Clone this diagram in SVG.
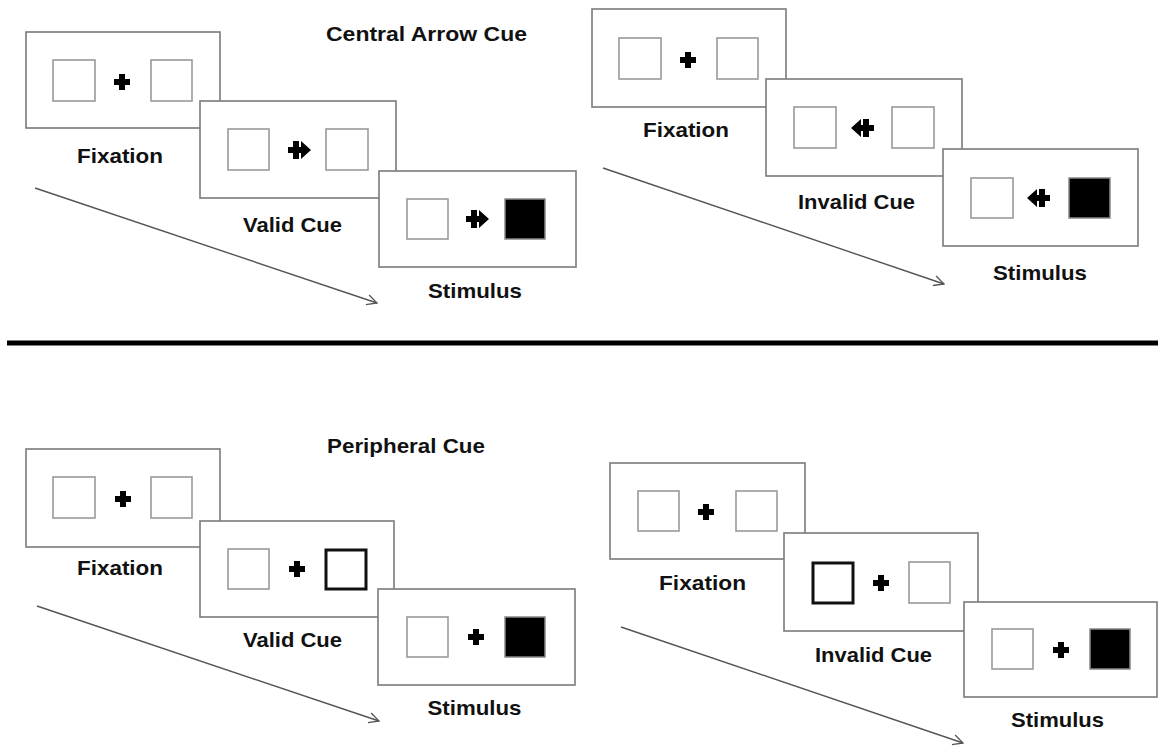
<svg xmlns="http://www.w3.org/2000/svg" width="1158" height="747" viewBox="0 0 1158 747">
<style>
.frame{fill:#fff;stroke:#7a7a7a;stroke-width:1.6}
.sq{fill:#fff;stroke:#9a9a9a;stroke-width:1.6}
.thick{fill:#fff;stroke:#111;stroke-width:3}
.blk{fill:#000;stroke:#888;stroke-width:1.5}
.lbl{font-family:"Liberation Sans",Arial,sans-serif;font-weight:bold;font-size:21px;fill:#111;text-anchor:middle}
.conn{stroke:#555;stroke-width:1.4;fill:none}
</style>
<defs>
<path id="plus" d="M-3,-8 h6 v5 h5 v6 h-5 v5 h-6 v-5 h-5 v-6 h5 z" fill="#000"/>
<path id="arrR" d="M-12,-3 h5 v-6 h6 v6 h2 v-6 l10,9 l-10,9 v-6 h-2 v6 h-6 v-6 h-5 z" fill="#000"/>
<marker id="ah" viewBox="0 0 12 12" refX="11" refY="6" markerWidth="12" markerHeight="12" markerUnits="userSpaceOnUse" orient="auto">
<polyline points="1,1 11,6 1,11" fill="none" stroke="#555" stroke-width="1.3"/>
</marker>
</defs>
<rect width="1158" height="747" fill="#fff"/>

<g id="title-central"><text class="lbl" x="426.5" y="41" textLength="201" lengthAdjust="spacingAndGlyphs">Central Arrow Cue</text></g>
<g id="title-peripheral"><text class="lbl" x="406" y="453" textLength="158" lengthAdjust="spacingAndGlyphs">Peripheral Cue</text></g>

<g id="connectors">
<line class="conn" x1="35" y1="188" x2="377" y2="303" marker-end="url(#ah)"/>
<line class="conn" x1="603" y1="168" x2="944" y2="284" marker-end="url(#ah)"/>
<line class="conn" x1="37" y1="606" x2="379" y2="721" marker-end="url(#ah)"/>
<line class="conn" x1="621" y1="627" x2="963" y2="743" marker-end="url(#ah)"/>
</g>

<g id="divider"><line x1="7" y1="343" x2="1158" y2="343" stroke="#000" stroke-width="5"/></g>

<!-- Top-left: central arrow valid -->
<g id="ca-valid-fixation">
<rect class="frame" x="26" y="32" width="194" height="96"/>
<rect class="sq" x="53" y="60" width="42" height="41"/>
<rect class="sq" x="151" y="60" width="41" height="41"/>
<use href="#plus" x="122" y="82"/>
<text class="lbl" x="120" y="163" textLength="86" lengthAdjust="spacingAndGlyphs">Fixation</text>
</g>
<g id="ca-valid-cue">
<rect class="frame" x="200" y="101" width="196" height="97"/>
<rect class="sq" x="228" y="129" width="41" height="41"/>
<rect class="sq" x="326" y="129" width="42" height="41"/>
<use href="#arrR" x="300" y="150"/>
<text class="lbl" x="292.5" y="232" textLength="99" lengthAdjust="spacingAndGlyphs">Valid Cue</text>
</g>
<g id="ca-valid-stimulus">
<rect class="frame" x="379" y="171" width="197" height="96"/>
<rect class="sq" x="407" y="199" width="41" height="40"/>
<rect class="blk" x="505" y="199" width="40" height="40"/>
<use href="#arrR" x="478" y="219"/>
<text class="lbl" x="475" y="298" textLength="94" lengthAdjust="spacingAndGlyphs">Stimulus</text>
</g>

<!-- Top-right: central arrow invalid -->
<g id="ca-invalid-fixation">
<rect class="frame" x="592" y="9" width="194" height="98"/>
<rect class="sq" x="619" y="38" width="42" height="41"/>
<rect class="sq" x="717" y="38" width="41" height="41"/>
<use href="#plus" x="688" y="60"/>
<text class="lbl" x="686" y="137" textLength="86" lengthAdjust="spacingAndGlyphs">Fixation</text>
</g>
<g id="ca-invalid-cue">
<rect class="frame" x="766" y="79" width="196" height="97"/>
<rect class="sq" x="794" y="107" width="42" height="41"/>
<rect class="sq" x="892" y="107" width="42" height="41"/>
<use href="#arrR" transform="translate(862,128) scale(-1,1)"/>
<text class="lbl" x="856.5" y="209" textLength="117" lengthAdjust="spacingAndGlyphs">Invalid Cue</text>
</g>
<g id="ca-invalid-stimulus">
<rect class="frame" x="943" y="149" width="195" height="97"/>
<rect class="sq" x="971" y="178" width="42" height="40"/>
<rect class="blk" x="1069" y="178" width="41" height="40"/>
<use href="#arrR" transform="translate(1038,198) scale(-1,1)"/>
<text class="lbl" x="1040" y="280" textLength="94" lengthAdjust="spacingAndGlyphs">Stimulus</text>
</g>

<!-- Bottom-left: peripheral valid -->
<g id="pc-valid-fixation">
<rect class="frame" x="26" y="449" width="194" height="98"/>
<rect class="sq" x="53" y="477" width="42" height="41"/>
<rect class="sq" x="151" y="477" width="41" height="41"/>
<use href="#plus" x="123" y="499"/>
<text class="lbl" x="120" y="575" textLength="86" lengthAdjust="spacingAndGlyphs">Fixation</text>
</g>
<g id="pc-valid-cue">
<rect class="frame" x="200" y="521" width="194" height="96"/>
<rect class="sq" x="228" y="549" width="41" height="40"/>
<rect class="thick" x="326" y="550" width="40" height="39"/>
<use href="#plus" x="297" y="569"/>
<text class="lbl" x="292.5" y="647" textLength="99" lengthAdjust="spacingAndGlyphs">Valid Cue</text>
</g>
<g id="pc-valid-stimulus">
<rect class="frame" x="378" y="589" width="197" height="96"/>
<rect class="sq" x="407" y="617" width="41" height="40"/>
<rect class="blk" x="505" y="617" width="40" height="40"/>
<use href="#plus" x="476" y="637"/>
<text class="lbl" x="474.5" y="715" textLength="94" lengthAdjust="spacingAndGlyphs">Stimulus</text>
</g>

<!-- Bottom-right: peripheral invalid -->
<g id="pc-invalid-fixation">
<rect class="frame" x="610" y="463" width="195" height="96"/>
<rect class="sq" x="638" y="491" width="41" height="40"/>
<rect class="sq" x="736" y="491" width="41" height="40"/>
<use href="#plus" x="706" y="512"/>
<text class="lbl" x="702.5" y="590" textLength="87" lengthAdjust="spacingAndGlyphs">Fixation</text>
</g>
<g id="pc-invalid-cue">
<rect class="frame" x="784" y="533" width="194" height="98"/>
<rect class="thick" x="813" y="563" width="40" height="40"/>
<rect class="sq" x="909" y="562" width="41" height="41"/>
<use href="#plus" x="881" y="583"/>
<text class="lbl" x="873.5" y="662" textLength="117" lengthAdjust="spacingAndGlyphs">Invalid Cue</text>
</g>
<g id="pc-invalid-stimulus">
<rect class="frame" x="964" y="602" width="193" height="95"/>
<rect class="sq" x="992" y="629" width="41" height="40"/>
<rect class="blk" x="1090" y="629" width="40" height="40"/>
<use href="#plus" x="1061" y="650"/>
<text class="lbl" x="1057.5" y="727" textLength="93" lengthAdjust="spacingAndGlyphs">Stimulus</text>
</g>
</svg>
